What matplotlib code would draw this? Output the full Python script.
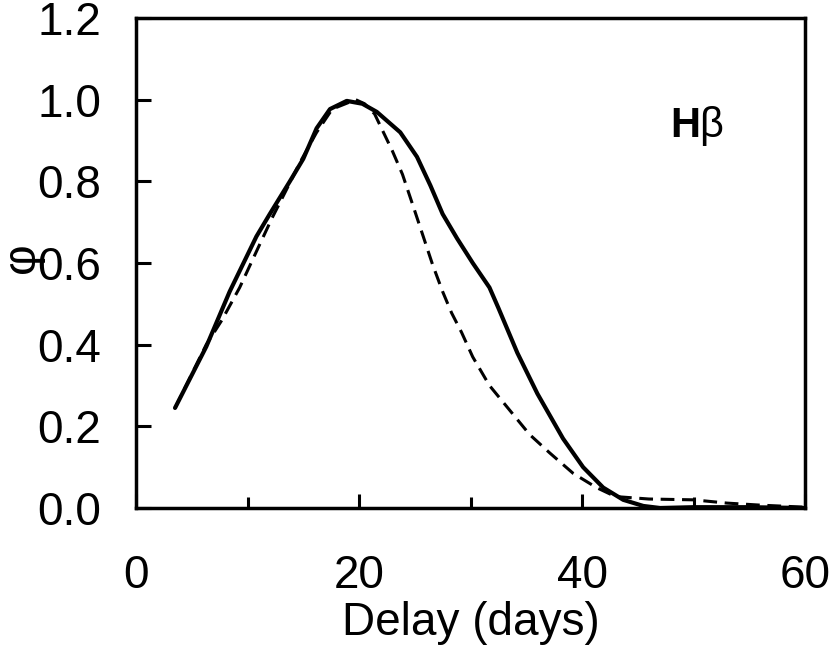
import matplotlib
matplotlib.use("Agg")
import matplotlib.pyplot as plt
from matplotlib.ticker import MultipleLocator

# Data
solid_x = [3.5, 6.3, 8.4, 10.8, 12.0, 13.8, 15.0, 16.2, 17.4, 18.9, 20.3, 21.6, 23.7,
           25.2, 26.4, 27.5, 28.8, 30.2, 31.7, 32.5, 34.2, 36.0, 38.3, 40.1, 41.9, 43.7,
           45.5, 47.0, 50.0, 55.0, 60.0]
solid_y = [0.245, 0.395, 0.53, 0.665, 0.72, 0.80, 0.855, 0.93, 0.977, 0.997, 0.99, 0.97,
           0.92, 0.86, 0.79, 0.72, 0.66, 0.60, 0.54, 0.49, 0.38, 0.28, 0.17, 0.10, 0.05,
           0.02, 0.005, 0.0, 0.002, 0.002, 0.0]

dash_x = [3.5, 6.3, 7.7, 9.3, 11.0, 12.2, 13.5, 14.7, 16.2, 17.6, 19.7, 20.5, 21.4, 23.0,
          23.9, 24.8, 25.7, 26.6, 27.5, 28.3, 29.2, 30.2, 31.7, 33.5, 35.3, 37.1, 39.2,
          41.3, 43.0, 46.0, 50.0, 53.0, 56.0, 60.0]
dash_y = [0.245, 0.40, 0.46, 0.54, 0.64, 0.71, 0.78, 0.846, 0.92, 0.977, 1.0, 0.99, 0.965,
          0.874, 0.817, 0.744, 0.67, 0.596, 0.53, 0.478, 0.43, 0.37, 0.30, 0.24, 0.18,
          0.135, 0.085, 0.05, 0.028, 0.022, 0.02, 0.012, 0.007, 0.002]

x_major = [0, 20, 40, 60]
y_ticks = [0.0, 0.2, 0.4, 0.6, 0.8, 1.0, 1.2]
y_labels = ["0.0", "0.2", "0.4", "0.6", "0.8", "1.0", "1.2"]

plt.rcParams['font.family'] = ['Liberation Sans', 'DejaVu Sans']

fig = plt.figure(figsize=(8.30, 6.47), dpi=100)
ax = fig.add_axes([136/830, 1 - 508/647, (805-136)/830, (508-18)/647])

ax.plot(solid_x, solid_y, color='black', lw=3.0, solid_capstyle='round',
        solid_joinstyle='round')
ax.plot(dash_x, dash_y, color='black', lw=2.2, dashes=(4.5, 2.5))

ax.set_xlim(0, 60)
ax.set_ylim(0, 1.2)

for s in ax.spines.values():
    s.set_linewidth(2.5)

ax.set_xticks(x_major)
ax.xaxis.set_minor_locator(MultipleLocator(10))
ax.set_yticks(y_ticks)
ax.set_yticklabels(y_labels)

ax.tick_params(axis='x', which='major', direction='in', length=10, width=2.2,
               labelsize=33, pad=33, top=False)
ax.tick_params(axis='x', which='minor', direction='in', length=8, width=2.2, top=False)
ax.tick_params(axis='y', which='major', direction='in', length=11, width=2.2,
               labelsize=33, pad=25, right=False)

ax.set_xlabel("Delay (days)", fontsize=33, labelpad=2)

fig.text(22/830, 1 - 258/647, "φ", rotation=90, fontsize=34, ha='center', va='center')

ax.text(47.9, 0.908, "H", fontsize=30, fontweight='bold', ha='left', va='baseline',
        family=['Liberation Sans Narrow', 'Liberation Sans'])
ax.text(50.5, 0.908, "β", fontsize=30, ha='left', va='baseline')

fig.savefig("out.png", dpi=100)
